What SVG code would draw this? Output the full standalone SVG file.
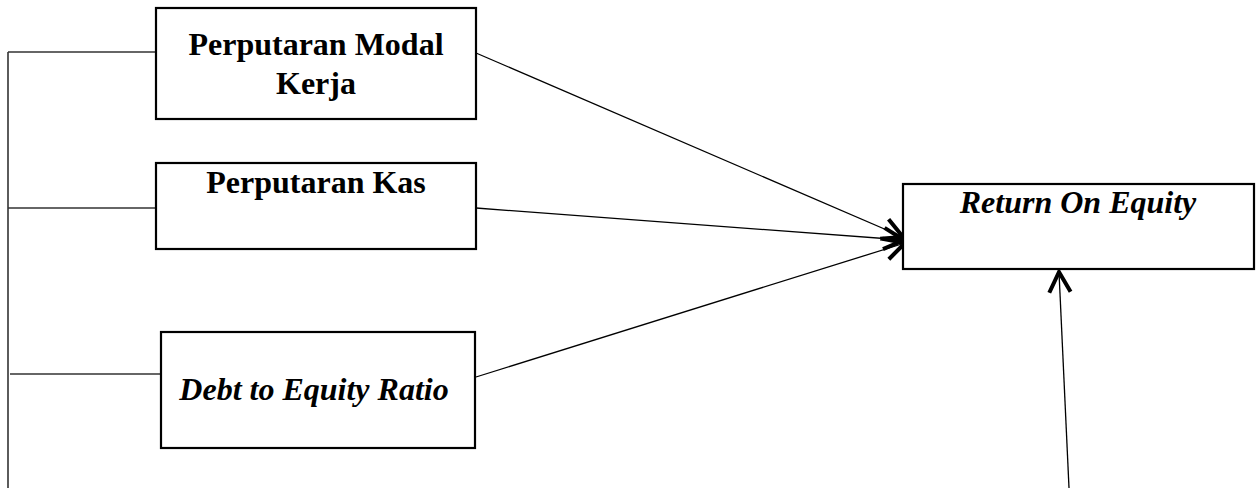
<svg xmlns="http://www.w3.org/2000/svg" width="1260" height="488" viewBox="0 0 1260 488">
  <style>
    .box { fill: #ffffff; stroke: #000000; stroke-width: 2.2; }
    .lbl { font-family: "Liberation Serif", "Times New Roman", serif; font-size: 32px; font-weight: bold; fill: #000000; text-anchor: middle; }
    .it { font-style: italic; }
    .tree { stroke: #333333; stroke-width: 1.6; fill: none; }
    .conn { stroke: #000000; stroke-width: 1.3; fill: none; }
  </style>
  <defs>
    <marker id="open" markerUnits="userSpaceOnUse" markerWidth="32" markerHeight="32" viewBox="-24 -15 28 30" refX="0" refY="0" orient="auto">
      <path d="M-19,-10 L0,0 L-19,10" fill="none" stroke="#000000" stroke-width="3.8"/>
    </marker>
  </defs>
  <rect width="1260" height="488" fill="#ffffff"/>

  <g id="tree">
    <path class="tree" d="M8,52 V488"/>
    <path class="tree" d="M8,52 H155"/>
    <path class="tree" d="M8,208 H155"/>
    <path class="tree" d="M10,374 H160"/>
  </g>

  <g id="connectors">
    <line class="conn" x1="476" y1="53" x2="903" y2="237" marker-end="url(#open)"/>
    <line class="conn" x1="476" y1="208" x2="904" y2="240" marker-end="url(#open)"/>
    <line class="conn" x1="476" y1="377" x2="905" y2="243" marker-end="url(#open)"/>
    <line class="conn" x1="1069" y1="488" x2="1059" y2="272" marker-end="url(#open)"/>
  </g>

  <g id="node-pmk">
    <rect class="box" x="156" y="8" width="320" height="111"/>
    <text class="lbl" x="316" y="55">Perputaran Modal</text>
    <text class="lbl" x="316" y="94">Kerja</text>
  </g>

  <g id="node-pk">
    <rect class="box" x="156" y="163" width="320" height="86"/>
    <text class="lbl" x="316" y="193">Perputaran Kas</text>
  </g>

  <g id="node-der">
    <rect class="box" x="161" y="332" width="314" height="116"/>
    <text class="lbl it" x="314" y="400">Debt to Equity Ratio</text>
  </g>

  <g id="node-roe">
    <rect class="box" x="903" y="184" width="351" height="85"/>
    <text class="lbl it" x="1078" y="213">Return On Equity</text>
  </g>
</svg>
